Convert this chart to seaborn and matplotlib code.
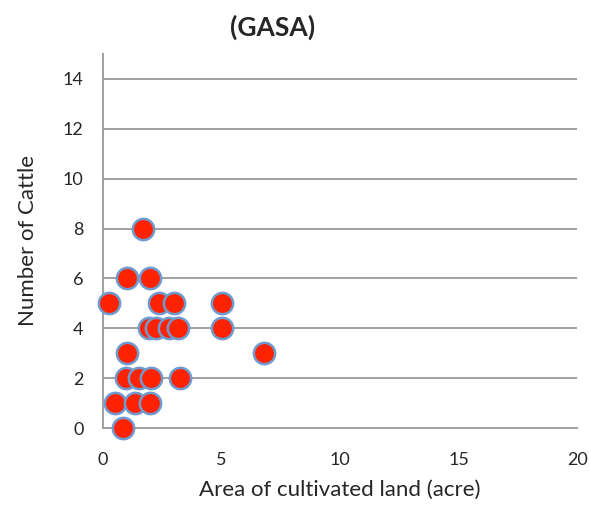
import matplotlib
matplotlib.use("Agg")
import matplotlib.pyplot as plt
import seaborn as sns
import pandas as pd

area = [1.68, 1.02, 1.99, 0.25, 2.35, 2.98, 5.0, 1.93, 2.24, 2.8, 3.15, 5.0,
        1.02, 6.8, 0.95, 1.51, 2.03, 3.25, 0.49, 1.36, 1.99, 0.84]
cattle = [8, 6, 6, 5, 5, 5, 5, 4, 4, 4, 4, 4,
          3, 3, 2, 2, 2, 2, 1, 1, 1, 0]
x_ticks = [0, 5, 10, 15, 20]
y_ticks = [0, 2, 4, 6, 8, 10, 12, 14]

df = pd.DataFrame({"area": area, "cattle": cattle})

sns.set_style("white")
plt.rcParams['font.family'] = ['Lato', 'DejaVu Sans']

fig = plt.figure(figsize=(5.89, 5.21), dpi=100)
ax = fig.add_axes([0.175, 0.1785, 0.805, 0.7179])

grid_c = "#a0a0a0"
for yv in y_ticks:
    ax.axhline(yv, color=grid_c, lw=1.4, zorder=1)

sns.scatterplot(data=df, x="area", y="cattle", ax=ax, s=235,
                color="#ff2200", edgecolor="#6f9bd0", linewidth=1.8,
                zorder=3, clip_on=False)

ax.set_xlim(0, 20)
ax.set_ylim(0, 15)
ax.set_xticks(x_ticks)
ax.set_yticks(y_ticks)
ax.tick_params(axis="both", which="both", direction="out", length=5,
               width=1.4, color=grid_c, labelsize=13)
ax.tick_params(axis="y", pad=9)
ax.tick_params(axis="x", pad=12)
for s in ["top", "right"]:
    ax.spines[s].set_visible(False)
for s in ["left", "bottom"]:
    ax.spines[s].set_color(grid_c)
    ax.spines[s].set_linewidth(1.4)

ax.set_xlabel("Area of cultivated land (acre)", fontsize=16, va="center")
ax.xaxis.set_label_coords(0.5, -0.166)
ax.set_ylabel("Number of Cattle", fontsize=16, va="center")
ax.yaxis.set_label_coords(-0.158, 0.5)
fig.text(0.462, 0.948, "(GASA)", ha="center", va="center", fontsize=19,
         fontweight="bold")

fig.savefig("out.png", dpi=100)
